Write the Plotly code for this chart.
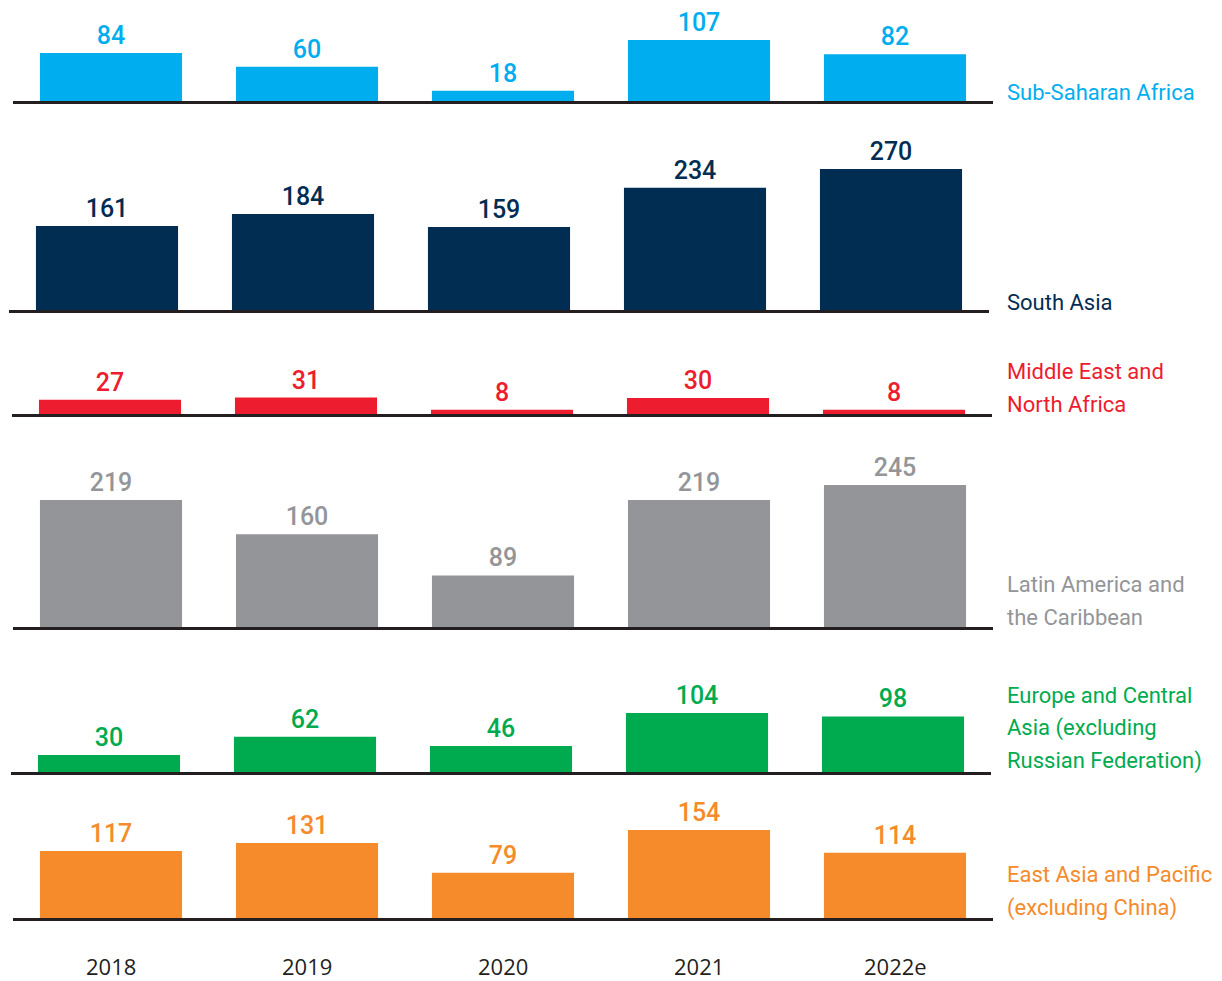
import plotly.graph_objects as go

# ---- data ----
years = ["2018", "2019", "2020", "2021", "2022e"]
region_lines = [
    ["Sub-Saharan Africa"],
    ["South Asia"],
    ["Middle East and", "North Africa"],
    ["Latin America and", "the Caribbean"],
    ["Europe and Central", "Asia (excluding", "Russian Federation)"],
    ["East Asia and Pacific", "(excluding China)"],
]
ssa = [84, 60, 18, 107, 82]
south_asia = [161, 184, 159, 234, 270]
mena = [27, 31, 8, 30, 8]
lac = [219, 160, 89, 219, 245]
eca = [30, 62, 46, 104, 98]
eap = [117, 131, 79, 154, 114]
series = [ssa, south_asia, mena, lac, eca, eap]

# ---- style ----
colors = ["#00AEEF", "#022D53", "#ED1C2E", "#939598", "#00AB4F", "#F58B2B"]
OFF = 8                      # page body margin
W, H = 1222 - OFF, 981 - OFF
FONT = "Roboto, Arial"


def fx(px):
    return (px - OFF) / W


def fy(py):
    return 1 - (py - OFF) / H


# per panel: baseline px, top px, px-per-unit, x-left px, x-right px, label centre px
panels = [
    (101, 15, 0.570, 13, 993, 93),
    (310, 130, 0.522, 9, 989, 302),
    (414, 360, 0.530, 12, 992, 388),
    (627, 440, 0.580, 13, 993, 601),
    (772, 675, 0.567, 11, 991, 728),
    (918, 795, 0.572, 13, 993, 891),
]
PITCH = 33

fig = go.Figure()
layout = dict(
    width=W, height=H, margin=dict(l=0, r=0, t=0, b=0),
    paper_bgcolor="white", plot_bgcolor="white", showlegend=False,
    bargap=0.275, font=dict(family=FONT, size=26),
)
annotations = []
for i, (vals, col, lines, p) in enumerate(zip(series, colors, region_lines, panels)):
    b, t, s, xl, xr, ly = p
    n = "" if i == 0 else str(i + 1)
    fig.add_trace(go.Bar(
        x=years, y=vals, marker=dict(color=col, line=dict(width=0)),
        text=[str(v) for v in vals], textposition="outside",
        textfont=dict(color=col, size=25, family=FONT, weight=500),
        cliponaxis=False, hoverinfo="skip",
        xaxis="x" + n, yaxis="y" + n,
    ))
    layout["xaxis" + n] = dict(
        domain=[fx(xl), fx(xr)], anchor="y" + n, type="category",
        range=[-0.5, 4.5], showline=True, linecolor="#231F20", linewidth=3,
        showgrid=False, zeroline=False, showticklabels=False, ticks="",
        fixedrange=True,
    )
    layout["yaxis" + n] = dict(
        domain=[fy(b), fy(t)], anchor="x" + n,
        range=[0, (b - t) / s], visible=False, fixedrange=True,
    )
    k = len(lines)
    for j, line in enumerate(lines):
        yc = ly + (j - (k - 1) / 2) * PITCH
        annotations.append(dict(
            text=line, xref="paper", yref="paper", x=fx(1005), y=fy(yc),
            xanchor="left", yanchor="middle", align="left", showarrow=False,
            font=dict(color=col, size=22, family=FONT),
        ))

for idx, yr in enumerate(years):
    annotations.append(dict(
        text=yr, xref="x6", yref="paper", x=idx, y=fy(966),
        xanchor="center", yanchor="middle", showarrow=False, borderpad=0,
        font=dict(color="#231F20", size=22, family="Open Sans, Roboto"),
    ))

layout["annotations"] = annotations
fig.update_layout(**layout)
fig.write_html("out.html")
